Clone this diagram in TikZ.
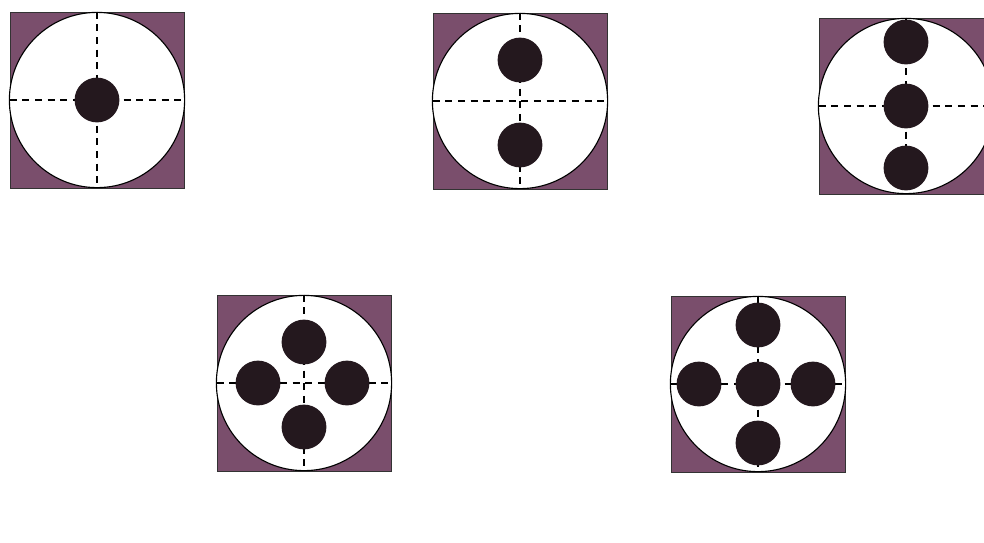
\documentclass[tikz,border=0pt]{standalone}
\usepackage{tikz}
\usetikzlibrary{positioning, calc}
\definecolor{plum}{RGB}{122, 78, 108}
\definecolor{dotblack}{RGB}{36, 24, 30}

\begin{document}
\begin{tikzpicture}[x=0.025cm, y=-0.025cm,
	frame/.style={draw=black!80, fill=plum, minimum width=4.35cm, minimum height=4.4cm, inner sep=0},
	disk/.style={circle, draw=black, thick, fill=white, minimum size=4.38cm, inner sep=0},
	dot/.style={circle, fill=dotblack, minimum size=1.12cm, inner sep=0},
	hair/.style={draw=black, thick, dash pattern=on 5pt off 4pt}]
	\clip (0,0) rectangle (984,542);
	\fill[white] (0,0) rectangle (984,542);

	% one dot
	\node (sqA) at (97,100) [frame] {};
	\node (ringA) at (sqA) [disk] {};
	\path[hair] (sqA.west) -- (sqA.east);
	\path[hair] (sqA.north) -- (sqA.south);
	\node (dotA) at (sqA) [dot] {};

	% two dots
	\node (sqB) at (520,101) [frame] {};
	\node (ringB) at (sqB) [disk] {};
	\path[hair] (sqB.west) -- (sqB.east);
	\path[hair] (sqB.north) -- (sqB.south);
	\node (dotB1) at (520,60) [dot] {};
	\node (dotB2) at (520,145) [dot] {};

	% three dots
	\node (sqC) at (906,106) [frame] {};
	\node (ringC) at (sqC) [disk] {};
	\path[hair] (sqC.west) -- (sqC.east);
	\path[hair] (sqC.north) -- (sqC.south);
	\node (dotC1) at (906,42) [dot] {};
	\node (dotC2) at (906,106) [dot] {};
	\node (dotC3) at (906,168) [dot] {};

	% four dots
	\node (sqD) at (304,383) [frame] {};
	\node (ringD) at (sqD) [disk] {};
	\path[hair] (sqD.west) -- (sqD.east);
	\path[hair] (sqD.north) -- (sqD.south);
	\node (dotD1) at (304,342) [dot] {};
	\node (dotD2) at (258,383) [dot] {};
	\node (dotD3) at (347,383) [dot] {};
	\node (dotD4) at (304,427) [dot] {};

	% five dots
	\node (sqE) at (758,384) [frame] {};
	\node (ringE) at (sqE) [disk] {};
	\path[hair] (sqE.west) -- (sqE.east);
	\path[hair] (sqE.north) -- (sqE.south);
	\node (dotE1) at (758,325) [dot] {};
	\node (dotE2) at (699,384) [dot] {};
	\node (dotE3) at (758,384) [dot] {};
	\node (dotE4) at (813,384) [dot] {};
	\node (dotE5) at (758,443) [dot] {};
\end{tikzpicture}
\end{document}
